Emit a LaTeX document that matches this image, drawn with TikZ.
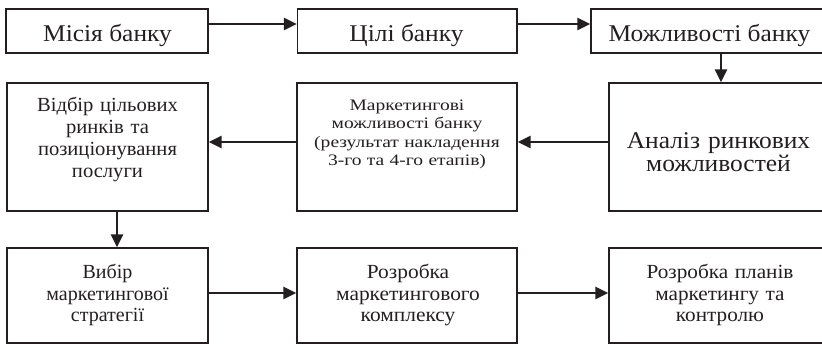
\documentclass[tikz,border=0pt]{standalone}
\usepackage{fontspec}
\setmainfont{Liberation Serif}
\usetikzlibrary{arrows.meta}
\definecolor{ink}{RGB}{35,31,32}
\tikzset{
  box/.style={draw=ink, line width=1.3pt, rectangle, inner sep=0pt},
  lbl/.style={text=ink, inner sep=0pt, align=center, anchor=base},
  arr/.style={draw=ink, line width=2.4pt, -{Triangle[length=13pt,width=12pt]}},
  big/.style={font=\fontsize{24}{23.4}\selectfont\addfontfeatures{FakeStretch=1.06}},
  mid/.style={font=\fontsize{20}{21.8}\selectfont\addfontfeatures{FakeStretch=#1}},
  mid/.default=1,
  small/.style={font=\fontsize{16}{18.5}\selectfont\addfontfeatures{FakeStretch=1.22}}
}
\begin{document}
\begin{tikzpicture}[x=1pt,y=-1pt]
\useasboundingbox (0,0) rectangle (822,344);
\clip (0,0) rectangle (822,344);
% boxes
\node[box, minimum width=202pt, minimum height=44pt] (b1) at (107,31) {};
\node[box, minimum width=219.5pt, minimum height=44pt] (b2) at (407.25,31) {};
\node[box, minimum width=238pt, minimum height=44pt] (b3) at (710,31) {};
\node[box, minimum width=201pt, minimum height=128pt] (b4) at (107.5,147) {};
\node[box, minimum width=220pt, minimum height=128pt] (b5) at (407,147) {};
\node[box, minimum width=220pt, minimum height=128pt] (b6) at (719,147) {};
\node[box, minimum width=201pt, minimum height=95pt] (b7) at (107.5,295.5) {};
\node[box, minimum width=220pt, minimum height=95pt] (b8) at (407,295.5) {};
\node[box, minimum width=220pt, minimum height=95pt] (b9) at (719,295.5) {};
% texts
\node[lbl, big] (t1) at (107.5,42) {Місія банку};
\node[lbl, big] (t2) at (406.5,42) {Цілі банку};
\node[lbl, big] (t3) at (709.5,42) {Можливості банку};
\node[lbl, mid=1.03, text width=200pt] (t4) at (107.5,112) {Відбір цільових\\ринків та\\позиціонування\\послуги};
\node[lbl, small, text width=218pt] (t5) at (407,110.5) {Маркетингові\\можливості банку\\(результат накладення\\3-го та 4-го етапів)};
\node[lbl, big, text width=218pt] (t6) at (718.5,148.3) {Аналіз ринкових\\можливостей};
\node[lbl, mid, text width=200pt] (t7) at (107.5,278.3) {Вибір\\маркетингової\\стратегії};
\node[lbl, mid=1.07, text width=218pt] (t8) at (408,278.3) {Розробка\\маркетингового\\комплексу};
\node[lbl, mid=1.06, text width=218pt] (t9) at (720,278.3) {Розробка планів\\маркетингу та\\контролю};
% helper coordinates
\coordinate (r1) at (0,24);
\coordinate (r2) at (0,142);
\coordinate (r3) at (0,293);
\coordinate (v1) at (721,0);
\coordinate (v2) at (117,0);
% connectors
\draw[arr] (b1.east |- r1) -- (b2.west |- r1);
\draw[arr] (b2.east |- r1) -- (b3.west |- r1);
\draw[arr] (b3.south -| v1) -- (b6.north -| v1);
\draw[arr] (b6.west |- r2) -- (b5.east |- r2);
\draw[arr] (b5.west |- r2) -- (b4.east |- r2);
\draw[arr] (b4.south -| v2) -- (b7.north -| v2);
\draw[arr] (b7.east |- r3) -- (b8.west |- r3);
\draw[arr] (b8.east |- r3) -- (b9.west |- r3);
\end{tikzpicture}
\end{document}
